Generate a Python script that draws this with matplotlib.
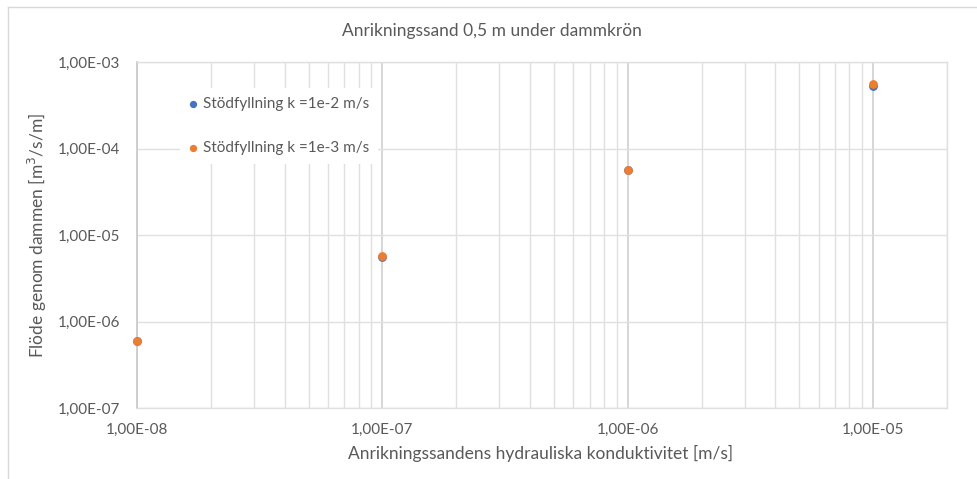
import matplotlib
matplotlib.use("Agg")
import matplotlib.pyplot as plt
from matplotlib.ticker import LogLocator, FixedLocator, FuncFormatter, NullFormatter
from matplotlib.lines import Line2D

plt.rcParams['font.family'] = ['Lato', 'DejaVu Sans']

# Hydraulic conductivity of the tailings sand [m/s]
k_sand = [1e-8, 1e-7, 1e-6, 1e-5]
# Seepage through the dam [m3/s/m] for two support-fill conductivities
flow_k1e2 = [6.0e-7, 5.6e-6, 5.6e-5, 5.3e-4]
flow_k1e3 = [6.0e-7, 5.7e-6, 5.6e-5, 5.5e-4]
series_labels = ["Stödfyllning k =1e-2 m/s", "Stödfyllning k =1e-3 m/s"]

title = "Anrikningssand 0,5 m under dammkrön"
xlabel = "Anrikningssandens hydrauliska konduktivitet [m/s]"
ylabel = "Flöde genom dammen [m$^3$/s/m]"

text_col = "#595959"
grid_minor = "#e0e0e0"
grid_major = "#cfcfcf"

fig = plt.figure(figsize=(9.78, 4.79), dpi=100)
ax = fig.add_axes([137/978, 1-408/479, (947-137)/978, (408-62)/479])

ax.set_xscale("log")
ax.set_yscale("log")
ax.set_xlim(1e-8, 2e-5)
ax.set_ylim(1e-7, 1e-3)

ax.xaxis.set_major_locator(FixedLocator([1e-8, 1e-7, 1e-6, 1e-5]))
ax.xaxis.set_minor_locator(LogLocator(base=10, subs=range(2, 10), numticks=20))
ax.xaxis.set_minor_formatter(NullFormatter())
ax.yaxis.set_major_locator(FixedLocator([1e-7, 1e-6, 1e-5, 1e-4, 1e-3]))
ax.yaxis.set_minor_locator(FixedLocator([]))

def excel_fmt(v, pos):
    s = f"{v:.2E}"
    mant, exp = s.split("E")
    e = int(exp)
    return f"{mant.replace('.', ',')}E{'-' if e < 0 else '+'}{abs(e):02d}"

ax.xaxis.set_major_formatter(FuncFormatter(excel_fmt))
ax.yaxis.set_major_formatter(FuncFormatter(excel_fmt))

ax.grid(True, which="minor", axis="x", color=grid_minor, lw=1.0)
ax.grid(True, which="major", axis="x", color=grid_major, lw=1.2)
ax.grid(True, which="major", axis="y", color=grid_minor, lw=1.0)
ax.set_axisbelow(True)

for side in ["top", "right", "bottom"]:
    ax.spines[side].set_color(grid_minor)
    ax.spines[side].set_linewidth(1.0)
ax.spines["left"].set_color("#c8c8c8")
ax.spines["left"].set_linewidth(1.2)

ax.tick_params(which="both", length=0, colors=text_col, labelsize=11)
ax.tick_params(axis="x", pad=11)
ax.tick_params(axis="y", pad=12)

ax.scatter(k_sand, flow_k1e2, s=28, color="#4472C4", zorder=3,
           label=series_labels[0], clip_on=False)
ax.scatter(k_sand, flow_k1e3, s=28, color="#ED7D31", zorder=4,
           label=series_labels[1], clip_on=False)

leg = ax.legend(loc="upper left", bbox_to_anchor=((180-137)/810, 1-(88-62)/346),
                frameon=True, framealpha=1.0, facecolor="white", edgecolor="none",
                fancybox=False, labelspacing=1.95, handletextpad=0.4,
                handlelength=0.5, borderpad=0.6, borderaxespad=0.0,
                markerscale=0.8, fontsize=11, labelcolor=text_col)
leg.set_zorder(5)

fig.text(492/978, 1-31/479, title, ha="center", va="center", fontsize=12.5, color=text_col)
fig.text(541/978, 1-453/479, xlabel, ha="center", va="center", fontsize=12.5, color=text_col)
fig.text(37/978, 1-235/479, ylabel, ha="center", va="center", rotation=90,
         fontsize=12.5, color=text_col)

# chart area border
fig.add_artist(Line2D([8/978, 8/978], [0, 1-7/479], transform=fig.transFigure,
                      color="#d9d9d9", lw=1.0))
fig.add_artist(Line2D([8/978, 1], [1-7/479, 1-7/479], transform=fig.transFigure,
                      color="#d9d9d9", lw=1.0))

fig.savefig("out.png", dpi=100)
